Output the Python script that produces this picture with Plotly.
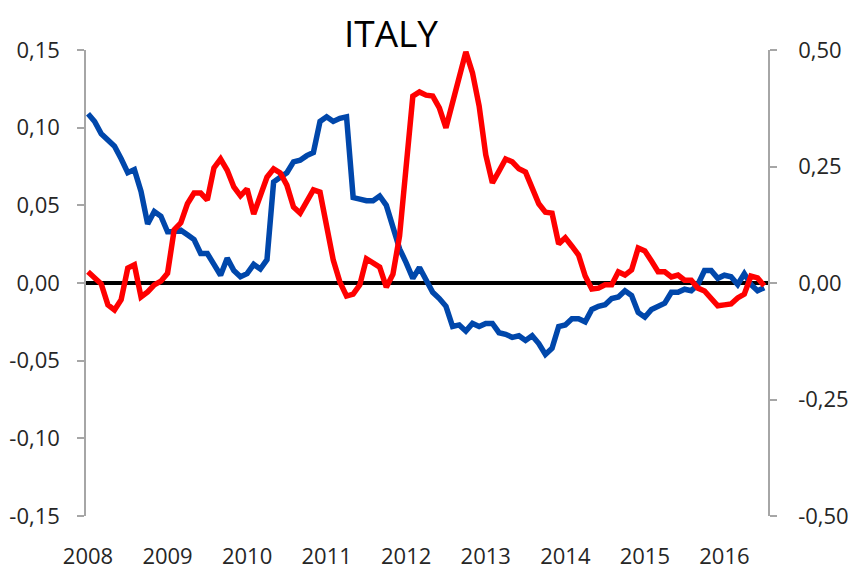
import plotly.graph_objects as go

# Monthly observations, Jan 2008 .. Jul 2016
start_year = 2008
n_months = 103
months = [start_year + i / 12 for i in range(n_months)]

# Blue series (left axis)
blue_values = [
    0.109, 0.104, 0.096, 0.092, 0.088, 0.080, 0.071, 0.073, 0.059, 0.038,
    0.046, 0.043, 0.033, 0.033, 0.034, 0.031, 0.028, 0.019, 0.019, 0.012,
    0.005, 0.016, 0.008, 0.004, 0.006, 0.012, 0.009, 0.015, 0.065, 0.068,
    0.071, 0.078, 0.079, 0.082, 0.084, 0.104, 0.107, 0.104, 0.106, 0.107,
    0.055, 0.054, 0.053, 0.053, 0.056, 0.050, 0.036, 0.022, 0.013, 0.003,
    0.010, 0.001, -0.006, -0.010, -0.015, -0.028, -0.027, -0.031, -0.026, -0.028,
    -0.026, -0.026, -0.032, -0.033, -0.035, -0.034, -0.037, -0.034, -0.039, -0.046,
    -0.042, -0.028, -0.027, -0.023, -0.023, -0.025, -0.017, -0.015, -0.014, -0.010,
    -0.009, -0.005, -0.008, -0.019, -0.022, -0.017, -0.015, -0.013, -0.006, -0.006,
    -0.004, -0.005, -0.001, 0.008, 0.008, 0.003, 0.005, 0.004, -0.001, 0.006,
    -0.001, -0.005, -0.003,
]

# Red series (right axis)
red_values = [
    0.024, 0.011, -0.002, -0.047, -0.058, -0.036, 0.032, 0.039, -0.030, -0.019,
    -0.004, 0.004, 0.021, 0.114, 0.129, 0.170, 0.193, 0.193, 0.178, 0.247,
    0.266, 0.242, 0.206, 0.187, 0.202, 0.148, 0.191, 0.227, 0.245, 0.236,
    0.210, 0.163, 0.150, 0.174, 0.200, 0.195, 0.124, 0.049, 0.002, -0.028,
    -0.024, -0.004, 0.052, 0.043, 0.034, -0.009, 0.019, 0.101, 0.240, 0.401,
    0.410, 0.403, 0.401, 0.376, 0.333, 0.391, 0.444, 0.496, 0.451, 0.380,
    0.275, 0.215, 0.240, 0.266, 0.260, 0.245, 0.238, 0.200, 0.170, 0.152,
    0.150, 0.084, 0.097, 0.079, 0.060, 0.015, -0.013, -0.011, -0.004, -0.004,
    0.024, 0.017, 0.028, 0.075, 0.069, 0.047, 0.024, 0.024, 0.013, 0.017,
    0.006, 0.006, -0.011, -0.017, -0.032, -0.049, -0.047, -0.045, -0.032, -0.024,
    0.015, 0.011, -0.006,
]

year_ticks = [2008, 2009, 2010, 2011, 2012, 2013, 2014, 2015, 2016]
year_labels = [str(y) for y in year_ticks]
left_ticks = [-0.15, -0.10, -0.05, 0.0, 0.05, 0.10, 0.15]
left_labels = ["-0,15", "-0,10", "-0,05", "0,00", "0,05", "0,10", "0,15"]
right_ticks = [-0.50, -0.25, 0.0, 0.25, 0.50]
right_labels = ["-0,50", "-0,25", "0,00", "0,25", "0,50"]

FONT = "Open Sans"
TICK_COLOR = "#262626"
AXIS_GRAY = "#a6a6a6"

# the page body adds an 8px offset, so the figure fills the rest of the window
W, H = 848, 569

fig = go.Figure()
fig.add_trace(go.Scatter(
    x=months, y=blue_values, mode="lines", yaxis="y",
    line=dict(color="#0047ab", width=5.5), showlegend=False,
))
fig.add_trace(go.Scatter(
    x=months, y=red_values, mode="lines", yaxis="y2",
    line=dict(color="#ff0000", width=5.5), showlegend=False,
))

fig.update_layout(
    template="none",
    width=W, height=H,
    margin=dict(l=78, r=88, t=42, b=61, autoexpand=False),
    paper_bgcolor="white", plot_bgcolor="white",
    font=dict(family=FONT, color=TICK_COLOR, size=22),
    title=dict(
        text="ITALY", x=383 / W, xanchor="center", xref="container",
        y=1 - 26 / H, yanchor="middle", yref="container",
        font=dict(family=FONT, size=37, color="black"),
    ),
    xaxis=dict(
        range=[2007.975, 2016.548], automargin=False,
        tickvals=year_ticks, ticktext=year_labels,
        showline=False, showgrid=False, zeroline=False,
        ticks="outside", ticklen=21, tickcolor="rgba(0,0,0,0)",
        tickfont=dict(size=22, color=TICK_COLOR),
    ),
    yaxis=dict(
        range=[-0.15, 0.15], automargin=False,
        tickvals=left_ticks, ticktext=left_labels,
        showline=True, linecolor=AXIS_GRAY, linewidth=1.5,
        ticks="outside", ticklen=7, tickcolor=AXIS_GRAY, tickwidth=1.5,
        showgrid=False,
        zeroline=True, zerolinecolor="black", zerolinewidth=3.5,
        ticklabelstandoff=13,
        tickfont=dict(size=22, color=TICK_COLOR),
    ),
    yaxis2=dict(
        range=[-0.5, 0.5], overlaying="y", side="right", automargin=False,
        tickvals=right_ticks, ticktext=right_labels,
        showline=True, linecolor=AXIS_GRAY, linewidth=1.5,
        ticks="outside", ticklen=7, tickcolor=AXIS_GRAY, tickwidth=1.5,
        showgrid=False, zeroline=False,
        ticklabelstandoff=17,
        tickfont=dict(size=22, color=TICK_COLOR),
    ),
)

fig.write_html("out.html")
